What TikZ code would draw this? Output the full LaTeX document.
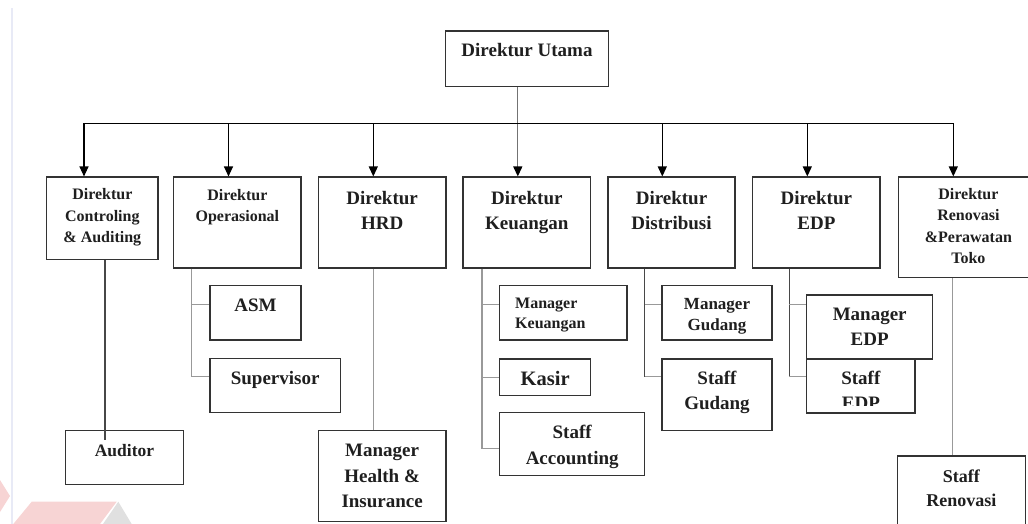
\documentclass[tikz,border=0pt]{standalone}
\usepackage{fontspec}
\setmainfont{Liberation Serif}
\usetikzlibrary{arrows.meta}

\definecolor{edgerule}{RGB}{232,234,246}
\definecolor{logopink}{RGB}{247,212,212}
\definecolor{logogray}{RGB}{224,224,224}

% box with its top-aligned, centred caption:
% name, x1, y1, x2, y2, caption top, font size, line spacing, caption
\newcommand\obox[9]{%
  \node[box, minimum width={#4-#2}, minimum height={#5-#3}] (#1) at ({(#2+#4)/2},{(#3+#5)/2}) {};
  \node[lbl, font=\fontsize{#7}{#8}\selectfont\bfseries] (#1-t) at ({(#2+#4)/2},#6) {#9};
}

\begin{document}
\begin{tikzpicture}[x=1pt,y=-1pt,
  box/.style={draw=black!80, line width=1.1pt, inner sep=0pt, fill=white},
  lbl/.style={anchor=north, inner sep=0pt, align=center, text=black!88},
  bus/.style={draw=black, line width=1.1pt},
  tip/.style={bus, -{Triangle[width=9pt,length=10pt]}},
  trunk/.style={draw=black!40, line width=1.3pt},
  trunkdark/.style={draw=black!72, line width=1.1pt},
]
\useasboundingbox (0,0) rectangle (1028,524);
\clip (0,0) rectangle (1028,524);

% page edge rule and logo on the left
\draw[draw=edgerule, line width=2pt] (12.3,8) -- (12.3,524);
\fill[logopink] (0,480) -- (10,496) -- (0,512) -- cycle;
\fill[logopink] (31.7,501.7) -- (116.7,501.7) -- (100,524) -- (13.3,524) -- cycle;
\fill[logogray] (118.3,501.7) -- (131.7,524) -- (103,524) -- cycle;

% reference points
\coordinate (d1) at (84,123.3);
\coordinate (d2) at (228.5,123.3);
\coordinate (d3) at (373.3,123.3);
\coordinate (d4) at (517.8,123.3);
\coordinate (d5) at (662.3,123.3);
\coordinate (d6) at (807.3,123.3);
\coordinate (d7) at (953.3,123.3);
\coordinate (t-ctrl) at (105,0);
\coordinate (t-ops) at (191.7,0);
\coordinate (t-hrd) at (373.3,0);
\coordinate (t-keu) at (482,0);
\coordinate (t-dist) at (644.7,0);
\coordinate (t-edp) at (789.3,0);
\coordinate (t-reno) at (952.7,0);
\coordinate (r1) at (0,304.7);
\coordinate (r2) at (0,376.7);
\coordinate (r3) at (0,448.7);

% boxes
\obox{utama}{445.7}{31}{608.3}{86.7}{43}{19}{25}{Direktur Utama}
\obox{ctrl}{46.7}{177}{158}{259.5}{188.3}{16}{21.5}{Direktur\\Controling\\\& Auditing}
\obox{ops}{173.7}{177}{301}{268}{189.3}{16}{20.5}{Direktur\\Operasional}
\obox{hrd}{318.3}{177}{446}{268}{190.7}{19}{25.6}{Direktur\\HRD}
\obox{keu}{463}{177}{590.7}{268}{190.7}{19}{25.6}{Direktur\\Keuangan}
\obox{dist}{608}{177}{735}{268}{190.7}{19}{25.6}{Direktur\\Distribusi}
\obox{edp}{752.7}{177}{880}{268}{190.7}{19}{25.6}{Direktur\\EDP}
\obox{reno}{898.3}{177}{1038.5}{277.7}{188.3}{16}{21.3}{Direktur\\Renovasi\\\&Perawatan\\Toko}

\obox{asm}{210}{285.7}{301}{340}{298.5}{19}{25}{ASM}
\obox{sup}{210}{358.3}{340.3}{412.7}{371}{19}{25}{Supervisor}
\obox{aud}{65.3}{430.3}{183.7}{484.7}{444}{17.5}{22}{Auditor}
\obox{mhi}{318.3}{430.3}{446}{521.3}{444}{19}{25.5}{Manager\\Health \&\\Insurance}

\node[box, minimum width={627-499.7}, minimum height={340-285.7}] (mkeu) at ({(499.7+627)/2},{(285.7+340)/2}) {};
\node[lbl, anchor=north west, align=left, font=\fontsize{16}{20}\selectfont\bfseries] (mkeu-t) at (515,297.7) {Manager\\Keuangan};
\obox{kasir}{499.7}{359}{590.7}{395.3}{371.5}{20.5}{25}{Kasir}
\obox{sacc}{499.7}{412.7}{644.7}{475.3}{425}{19}{25.6}{Staff\\Accounting}

\obox{mgud}{662}{285.7}{772}{340}{298.3}{17}{21}{Manager\\Gudang}
\obox{sgud}{662}{359}{772}{430.7}{370.7}{19}{25}{Staff\\Gudang}

\obox{sedp}{806.7}{359}{915}{413}{370.7}{19}{25}{}
\begin{scope}
  \clip (806.7,359) rectangle (915,405);
  \node[lbl, font=\fontsize{19}{25}\selectfont\bfseries] (sedp-c) at ({(806.7+915)/2},370.7) {Staff\\EDP};
\end{scope}
\obox{medp}{806.7}{295}{932.7}{359}{308.3}{19}{25}{Manager\\EDP}

\obox{sren}{897.3}{456}{1025.3}{545}{469.3}{18}{24}{Staff\\Renovasi}

% top level feed
\draw[trunk, draw=black!55, -{Triangle[width=9pt,length=10pt,color=black]}] (utama.south -| d4) -- (d4 |- keu.north);
\draw[bus, {Triangle[width=9pt,length=10pt]}-{Triangle[width=9pt,length=10pt]}]
  (d1 |- ctrl.north) -- (d1) -- (d7) -- (d7 |- reno.north);
\draw[tip] (d2) -- (d2 |- ops.north);
\draw[tip] (d3) -- (d3 |- hrd.north);
\draw[tip] (d5) -- (d5 |- dist.north);
\draw[tip] (d6) -- (d6 |- edp.north);

% second level links
\draw[trunkdark] (ctrl.south -| t-ctrl) -- (aud.north -| t-ctrl) -- ++(0,10.4);

\draw[trunk] (ops.south -| t-ops) |- (sup.west |- r2);
\draw[trunk] (t-ops |- r1) -- (asm.west |- r1);

\draw[trunk] (hrd.south -| t-hrd) -- (mhi.north -| t-hrd);

\draw[trunk] (keu.south -| t-keu) |- (sacc.west |- r3);
\draw[trunk] (t-keu |- r1) -- (mkeu.west |- r1);
\draw[trunk] (t-keu |- kasir.west) -- (kasir.west);

\draw[trunkdark] (dist.south -| t-dist) -- (t-dist |- r2);
\draw[trunk] (t-dist |- r1) -- (mgud.west |- r1);
\draw[trunk] (t-dist |- r2) -- (sgud.west |- r2);

\draw[trunkdark] (edp.south -| t-edp) -- (t-edp |- r2);
\draw[trunk] (t-edp |- r1) -- (medp.west |- r1);
\draw[trunk] (t-edp |- r2) -- (sedp.west |- r2);

\draw[trunk] (reno.south -| t-reno) -- (sren.north -| t-reno);
\end{tikzpicture}
\end{document}
